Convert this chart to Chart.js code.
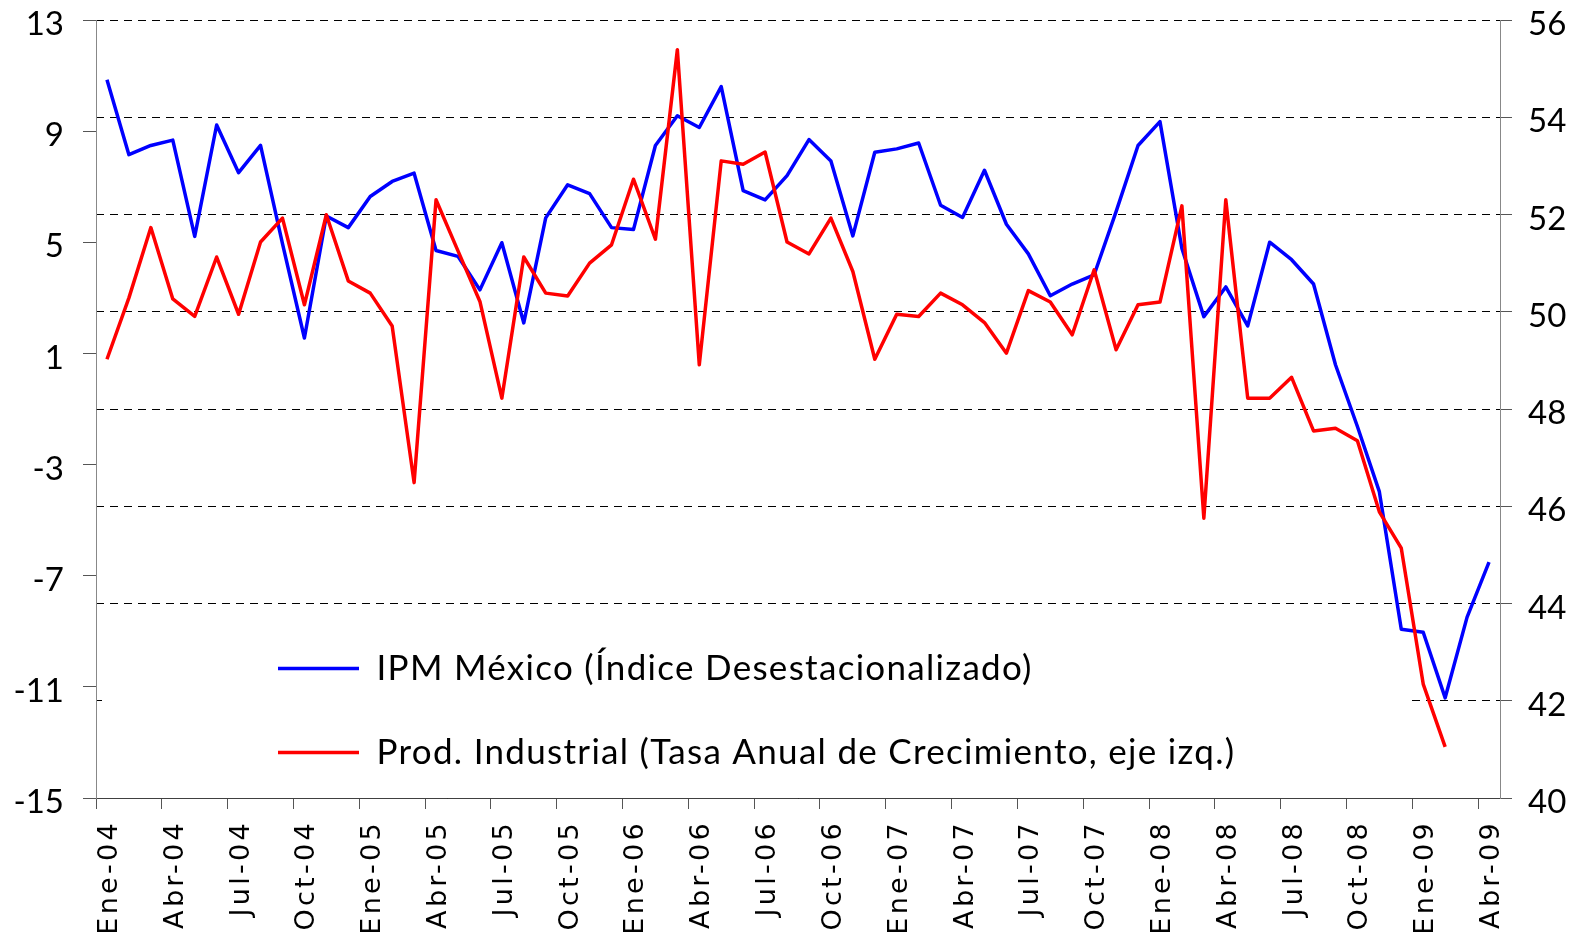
<!DOCTYPE html>
<html>
<head>
<meta charset="utf-8">
<script src="https://cdn.jsdelivr.net/npm/chart.js@4.4.1/dist/chart.umd.min.js"></script>
<style>
  html, body { margin: 0; padding: 0; background: #fff; }
  #wrap { width: 1575px; height: 940px; position: relative; }
</style>
</head>
<body>
<div id="wrap"><canvas id="grafica"></canvas></div>
<script>
// Meses (Ene-04 a Abr-09)
const meses = [
  'Ene-04','Feb-04','Mar-04','Abr-04','May-04','Jun-04','Jul-04','Ago-04','Sep-04','Oct-04','Nov-04','Dic-04',
  'Ene-05','Feb-05','Mar-05','Abr-05','May-05','Jun-05','Jul-05','Ago-05','Sep-05','Oct-05','Nov-05','Dic-05',
  'Ene-06','Feb-06','Mar-06','Abr-06','May-06','Jun-06','Jul-06','Ago-06','Sep-06','Oct-06','Nov-06','Dic-06',
  'Ene-07','Feb-07','Mar-07','Abr-07','May-07','Jun-07','Jul-07','Ago-07','Sep-07','Oct-07','Nov-07','Dic-07',
  'Ene-08','Feb-08','Mar-08','Abr-08','May-08','Jun-08','Jul-08','Ago-08','Sep-08','Oct-08','Nov-08','Dic-08',
  'Ene-09','Feb-09','Mar-09','Abr-09'
];

// IPM México, índice desestacionalizado (eje derecho)
const ipm = [
  54.77, 53.23, 53.42, 53.53, 51.55, 53.84, 52.86, 53.42, 51.4, 49.46, 51.97, 51.73,
  52.37, 52.68, 52.85, 51.26, 51.14, 50.45, 51.42, 49.77, 51.93, 52.61, 52.43, 51.73,
  51.69, 53.42, 54.03, 53.79, 54.63, 52.49, 52.30, 52.80, 53.54, 53.10, 51.56, 53.28,
  53.35, 53.47, 52.19, 51.94, 52.91, 51.80, 51.19, 50.33, 50.57, 50.76, 52.06, 53.42,
  53.91, 51.3, 49.90, 50.51, 49.71, 51.43, 51.07, 50.57, 48.91, 47.64, 46.30, 43.47,
  43.41, 42.06, 43.72, 44.85
];

// Producción industrial, tasa anual de crecimiento (eje izquierdo)
const prodInd = [
  0.79, 3.0, 5.53, 2.96, 2.33, 4.47, 2.41, 5.01, 5.87, 2.75, 5.99, 3.61,
  3.17, 1.99, -3.65, 6.53, 4.69, 2.87, -0.61, 4.47, 3.17, 3.07, 4.25, 4.91,
  7.27, 5.11, 11.93, 0.59, 7.93, 7.81, 8.25, 5.01, 4.58, 5.87, 3.95, 0.79,
  2.41, 2.33, 3.17, 2.75, 2.11, 1.01, 3.26, 2.85, 1.67, 4.01, 1.13, 2.75,
  2.85, 6.31, -4.93, 6.53, -0.61, -0.61, 0.14, -1.79, -1.69, -2.14, -4.70, -6.01,
  -10.9, -13.16, null, null
];

const ticksIzq = [-15, -11, -7, -3, 1, 5, 9, 13];
const ticksDer = [40, 42, 44, 46, 48, 50, 52, 54, 56];

Chart.defaults.font.family = 'Lato, Carlito, "Open Sans", sans-serif';
Chart.defaults.color = '#000';

// espaciado entre letras de las etiquetas de un eje
function espaciar(s, px) {
  if (s._espaciado) return;
  const orig = s.drawLabels.bind(s);
  s.drawLabels = (area) => {
    s.ctx.save();
    s.ctx.letterSpacing = px + 'px';
    orig(area);
    s.ctx.restore();
  };
  s._espaciado = true;
}

// leyenda dentro del área de la gráfica, con fondo blanco
const leyendaDentro = {
  id: 'leyendaDentro',
  afterLayout(chart) {
    const lg = chart.legend;
    const pad = lg.options.labels.padding;
    lg.left = 278 - pad;
    lg.right = 1575;
    lg.top = 651 - pad;
    lg.bottom = 940;
  },
  beforeDatasetsDraw(chart) {
    const ctx = chart.ctx;
    ctx.save();
    ctx.fillStyle = '#fff';
    ctx.fillRect(102, 614, 1305, 176);
    ctx.letterSpacing = '1.3px';
    chart.legend.draw(chart.chartArea);
    ctx.restore();
  }
};

new Chart(document.getElementById('grafica'), {
  type: 'line',
  data: {
    labels: meses,
    datasets: [
      {
        label: 'IPM México (Índice Desestacionalizado)',
        data: ipm,
        yAxisID: 'yDer',
        borderColor: '#0000ff',
        backgroundColor: '#0000ff',
        borderWidth: 3.5,
        borderJoinStyle: 'round',
        pointRadius: 0,
        pointBorderWidth: 3.5,
        tension: 0,
        order: 1
      },
      {
        label: 'Prod. Industrial (Tasa Anual de Crecimiento, eje izq.)',
        data: prodInd,
        yAxisID: 'yIzq',
        borderColor: '#ff0000',
        backgroundColor: '#ff0000',
        borderWidth: 3.5,
        borderJoinStyle: 'round',
        pointRadius: 0,
        pointBorderWidth: 3.5,
        tension: 0,
        order: 0
      }
    ]
  },
  options: {
    responsive: true,
    maintainAspectRatio: false,
    animation: false,
    layout: { padding: { top: 20, left: 0, right: 0, bottom: 0 } },
    scales: {
      x: {
        type: 'category',
        offset: true,
        grid: {
          offset: true,
          drawOnChartArea: false,
          tickLength: 11,
          tickColor: (c) => (c.index % 3 === 0 ? '#555' : 'rgba(0,0,0,0)')
        },
        border: { color: '#404040', width: 1 },
        ticks: {
          autoSkip: false,
          minRotation: 90,
          maxRotation: 90,
          padding: 11,
          labelOffset: 3,
          font: { family: '"DejaVu Sans", sans-serif', size: 27 },
          callback: function(v, i) { return i % 3 === 0 ? this.getLabelForValue(v) : ''; }
        },
        afterFit: (s) => { s.height = 142; s.paddingLeft = 0; s.paddingRight = 0; espaciar(s, 3.3); }
      },
      yIzq: {
        type: 'linear',
        position: 'left',
        min: -15,
        max: 13,
        afterBuildTicks: (s) => { s.ticks = ticksIzq.map(v => ({ value: v })); },
        grid: { drawOnChartArea: false, tickLength: 13, tickColor: '#555' },
        border: { color: '#888' },
        ticks: { padding: 19, labelOffset: 4.5, font: { size: 33 } },
        afterFit: (s) => { s.width = 96; s.paddingTop = 0; s.paddingBottom = 0; }
      },
      yDer: {
        type: 'linear',
        position: 'right',
        min: 40,
        max: 56,
        afterBuildTicks: (s) => { s.ticks = ticksDer.map(v => ({ value: v })); },
        grid: { color: '#000', lineWidth: 1, tickLength: 12, tickColor: '#555', tickBorderDash: [] },
        border: { color: '#888', dash: [8, 6] },
        ticks: { padding: 16, labelOffset: 4.5, font: { size: 33 } },
        afterFit: (s) => { s.width = 75; s.paddingTop = 0; s.paddingBottom = 0; }
      }
    },
    plugins: {
      legend: {
        position: 'chartArea',
        align: 'start',
        labels: {
          usePointStyle: true,
          pointStyle: 'line',
          pointStyleWidth: 81,
          padding: 49,
          color: '#000',
          font: { size: 35 },
          sort: (a, b) => a.datasetIndex - b.datasetIndex
        }
      },
      tooltip: { enabled: false }
    }
  },
  plugins: [leyendaDentro]
});
</script>
</body>
</html>
